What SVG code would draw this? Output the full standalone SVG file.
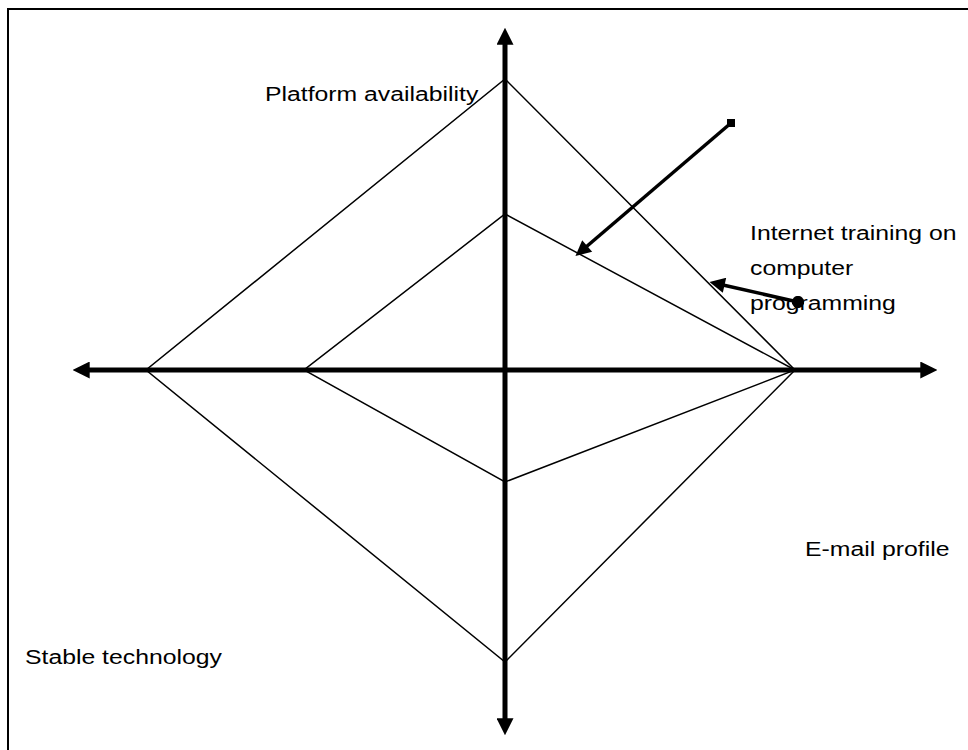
<svg xmlns="http://www.w3.org/2000/svg" width="968" height="750" viewBox="0 0 968 750">
  <style>
    .frame { fill: none; stroke: #000; stroke-width: 2; }
    .axis { fill: none; stroke: #000; stroke-width: 5; }
    .edge { fill: none; stroke: #000; stroke-width: 1.5; stroke-linejoin: miter; }
    .pointer { fill: none; stroke: #000; stroke-width: 3.5; }
    .label { font-family: "Liberation Sans", Arial, sans-serif; font-size: 21px; fill: #000; }
  </style>
  <defs>
    <marker id="axisHead" viewBox="0 0 10 10" refX="1" refY="5" markerWidth="3.4" markerHeight="3.4" orient="auto" markerUnits="strokeWidth">
      <path d="M0,0 L10,5 L0,10 z" fill="#000"/>
    </marker>
    <marker id="ptrHead" viewBox="0 0 10 10" refX="1" refY="5" markerWidth="5" markerHeight="4.4" orient="auto" markerUnits="strokeWidth">
      <path d="M0,0 L10,5 L0,10 z" fill="#000"/>
    </marker>
    <marker id="ptrSquare" viewBox="0 0 10 10" refX="5" refY="5" markerWidth="2.5" markerHeight="2.5" orient="0" markerUnits="strokeWidth">
      <rect x="0" y="0" width="10" height="10" fill="#000"/>
    </marker>
    <marker id="ptrDot" viewBox="0 0 10 10" refX="5" refY="5" markerWidth="3.5" markerHeight="3.5" orient="0" markerUnits="strokeWidth">
      <circle cx="5" cy="5" r="5" fill="#000"/>
    </marker>
  </defs>

  <rect class="frame" x="8" y="9" width="990" height="780"/>

  <g id="diamonds">
    <g id="outer-diamond">
      <polygon class="edge" points="505,79 795,370 505,662 146,370"/>
    </g>
    <g id="inner-diamond">
      <polygon class="edge" points="505,214 795,370 505,482 304,370"/>
    </g>
  </g>

  <g id="connectors">
    <line class="axis" x1="505" y1="370" x2="88" y2="370" marker-end="url(#axisHead)"/>
    <line class="axis" x1="505" y1="370" x2="922" y2="370" marker-end="url(#axisHead)"/>
    <line class="axis" x1="505" y1="370" x2="505" y2="43" marker-end="url(#axisHead)"/>
    <line class="axis" x1="505" y1="370" x2="505" y2="720" marker-end="url(#axisHead)"/>
    <line class="pointer" x1="731" y1="123" x2="586" y2="247" marker-start="url(#ptrSquare)" marker-end="url(#ptrHead)"/>
    <line class="pointer" x1="798" y1="302" x2="723" y2="285" marker-start="url(#ptrDot)" marker-end="url(#ptrHead)"/>
  </g>

  <g id="label-platform">
    <text class="label" transform="translate(265,101) scale(1.18,1)">Platform availability</text>
  </g>
  <g id="label-internet">
    <text class="label" transform="translate(750,240) scale(1.18,1)">Internet training on</text>
    <text class="label" transform="translate(750,275) scale(1.18,1)">computer</text>
    <text class="label" transform="translate(750,310) scale(1.18,1)">programming</text>
  </g>
  <g id="label-email">
    <text class="label" transform="translate(805,556) scale(1.18,1)">E-mail profile</text>
  </g>
  <g id="label-stable">
    <text class="label" transform="translate(25,664) scale(1.18,1)">Stable technology</text>
  </g>
</svg>
